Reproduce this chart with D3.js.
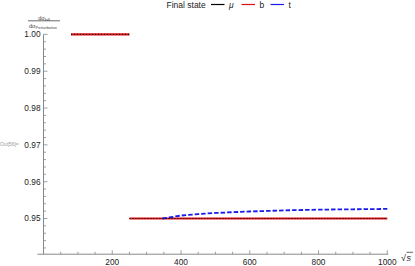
<!DOCTYPE html>
<html>
<head>
<meta charset="utf-8">
<script src="https://cdn.jsdelivr.net/npm/d3@7/dist/d3.min.js"></script>
<style>
  body { margin: 0; background: #fff; }
  svg { display: block; font-family: "Liberation Sans", Arial, sans-serif; }
</style>
</head>
<body>
<div id="chart"></div>
<script>
// data
const legendNames = ["\u03bc", "b", "t"];
const legendColors = ["#000000", "#dd1111", "#1a1aee"];

// mu and b: two flat pieces, identical for both
const lowSqrtS = [80, 250];
const lowRatio = [1.0, 1.0];
const highSqrtS = [250, 1000];
const highRatio = [0.95, 0.95];

// t: opens at the threshold and creeps upward
const topSqrtS = [346, 360, 400, 450, 500, 600, 700, 800, 900, 1000];
const topRatio = [0.9500, 0.9502, 0.9508, 0.9512, 0.9515, 0.9519, 0.9522, 0.9524, 0.9525, 0.9526];

const xMajor = [200, 400, 600, 800, 1000];
const yMajor = [0.95, 0.96, 0.97, 0.98, 0.99, 1.00];

const width = 415, height = 266;

const svg = d3.select("#chart").append("svg")
  .attr("width", width)
  .attr("height", height);

const x = d3.scaleLinear().domain([0, 1000]).range([43.5, 387.3]);
const y = d3.scaleLinear().domain([0.9403, 1.0]).range([254.2, 34.4]);

const axisColor = "#888";
const labelColor = "#222";

// axes lines
svg.append("line")
  .attr("x1", x(0) - 6).attr("x2", x(1000) + 1)
  .attr("y1", y(0.9403)).attr("y2", y(0.9403))
  .attr("stroke", axisColor).attr("stroke-width", 1);
svg.append("line")
  .attr("x1", x(0)).attr("x2", x(0))
  .attr("y1", y(1.0)).attr("y2", y(0.9403))
  .attr("stroke", axisColor).attr("stroke-width", 1);

// x ticks
const xTicks = d3.range(0, 1001, 50);
svg.append("g").selectAll("line")
  .data(xTicks)
  .join("line")
  .attr("x1", d => x(d)).attr("x2", d => x(d))
  .attr("y1", y(0.9403))
  .attr("y2", d => y(0.9403) - (d % 200 === 0 && d > 0 ? 4 : 2.5))
  .attr("stroke", axisColor).attr("stroke-width", 0.8);

svg.append("g").selectAll("text")
  .data(xMajor)
  .join("text")
  .attr("x", d => x(d))
  .attr("y", 265)
  .attr("text-anchor", "middle")
  .attr("font-size", 8.3)
  .attr("fill", labelColor)
  .text(d => d);

// y ticks
const yTicks = d3.range(0, 26).map(i => 0.95 + i * 0.002).concat(d3.range(1, 5).map(i => 0.95 - i * 0.002));
svg.append("g").selectAll("line")
  .data(yTicks.filter(d => d >= 0.9403 && d <= 1.0001))
  .join("line")
  .attr("x1", x(0))
  .attr("x2", d => x(0) + (yMajor.some(m => Math.abs(m - d) < 1e-6) ? 4 : 2.5))
  .attr("y1", d => y(d)).attr("y2", d => y(d))
  .attr("stroke", axisColor).attr("stroke-width", 0.8);

svg.append("g").selectAll("text")
  .data(yMajor)
  .join("text")
  .attr("x", x(0) - 3)
  .attr("y", d => y(d) + 3)
  .attr("text-anchor", "end")
  .attr("font-size", 8.3)
  .attr("fill", labelColor)
  .text(d => d.toFixed(2));

// axis labels
const frac = svg.append("g").attr("fill", "#444");
frac.append("text")
  .attr("x", 44).attr("y", 19.5)
  .attr("text-anchor", "middle")
  .attr("font-size", 5.6)
  .html("d\u03c3<tspan font-size='4' dy='1'>full</tspan>");
svg.append("line")
  .attr("x1", 28).attr("x2", 60)
  .attr("y1", 20.8).attr("y2", 20.8)
  .attr("stroke", "#444").attr("stroke-width", 0.8);
frac.append("text")
  .attr("x", 43).attr("y", 27.5)
  .attr("text-anchor", "middle")
  .attr("font-size", 5.6)
  .html("d\u03c3<tspan font-size='4' dy='1'>Perturbative</tspan>");

svg.append("text")
  .attr("x", 0).attr("y", 145.5)
  .attr("font-size", 4.8)
  .attr("fill", "#999")
  .text("Out[56]=");

const sLabel = svg.append("text")
  .attr("x", 401).attr("y", 260.5)
  .attr("font-size", 9)
  .attr("fill", labelColor);
sLabel.append("tspan").text("\u221a");
sLabel.append("tspan").attr("font-style", "italic").attr("dx", 0.5).text("s");
svg.append("line")
  .attr("x1", 406.5).attr("x2", 413)
  .attr("y1", 252.3).attr("y2", 252.3)
  .attr("stroke", labelColor).attr("stroke-width", 0.7);

// series
const line = d3.line().x(d => x(d[0])).y(d => y(d[1]));
const pieces = [d3.zip(lowSqrtS, lowRatio), d3.zip(highSqrtS, highRatio)];

// b (red, solid)
pieces.forEach(p => {
  svg.append("path")
    .attr("d", line(p))
    .attr("fill", "none")
    .attr("stroke", legendColors[1])
    .attr("stroke-width", 2.2);
});

// t (blue, dashed)
svg.append("path")
  .attr("d", line(d3.zip(topSqrtS, topRatio)))
  .attr("fill", "none")
  .attr("stroke", legendColors[2])
  .attr("stroke-width", 1.8)
  .attr("stroke-dasharray", "4.5,2");

// mu (black, dotted) on top
pieces.forEach(p => {
  svg.append("path")
    .attr("d", line(p))
    .attr("fill", "none")
    .attr("stroke", legendColors[0])
    .attr("stroke-width", 1)
    .attr("stroke-dasharray", "1,2");
});

// legend
const legend = svg.append("g").attr("font-size", 8.5).attr("fill", labelColor);
legend.append("text").attr("x", 166.5).attr("y", 7.5).text("Final state");
const legendX = [211, 241.5, 270.5];
legendNames.forEach((name, i) => {
  legend.append("line")
    .attr("x1", legendX[i]).attr("x2", legendX[i] + 13.5)
    .attr("y1", 4.5).attr("y2", 4.5)
    .attr("stroke", legendColors[i]).attr("stroke-width", 1.2);
  legend.append("text")
    .attr("x", legendX[i] + 18)
    .attr("y", 7.5)
    .attr("font-style", i === 0 ? "italic" : "normal")
    .text(name);
});
</script>
</body>
</html>
